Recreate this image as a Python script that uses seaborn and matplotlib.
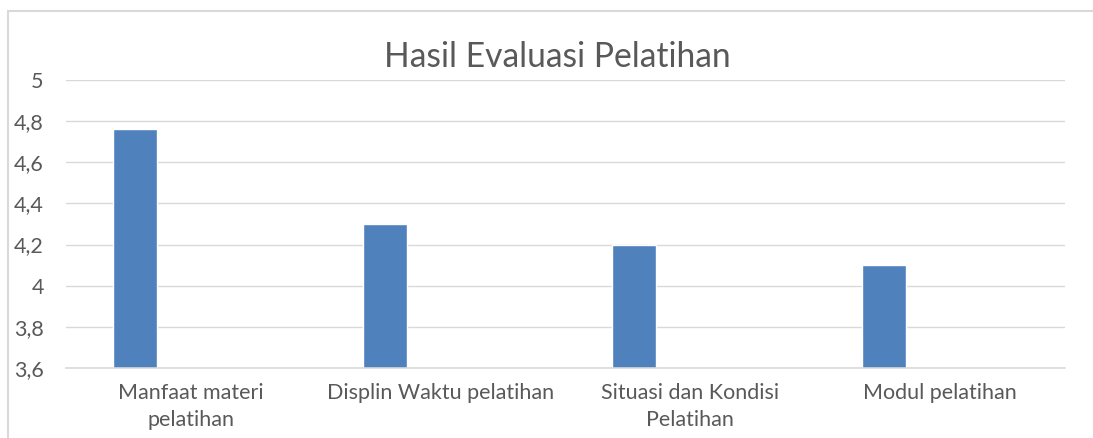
import numpy as np
import pandas as pd
import matplotlib
matplotlib.use("Agg")
import matplotlib.pyplot as plt
from matplotlib.patches import Rectangle
from matplotlib.ticker import FuncFormatter
import seaborn as sns

# ── Data ──────────────────────────────────────────────────────────────────────
CATEGORIES = ["Manfaat materi\npelatihan", "Displin Waktu pelatihan",
              "Situasi dan Kondisi\nPelatihan", "Modul pelatihan"]
SCORES = [4.76, 4.3, 4.2, 4.1]
SERIES = ["Nilai", "Kosong"]          # second series is empty (Excel layout)
Y_TICKS = [3.6, 3.8, 4.0, 4.2, 4.4, 4.6, 4.8, 5.0]
TITLE = "Hasil Evaluasi Pelatihan"

BAR_COLOR = "#4F81BD"
TEXT_COLOR = "#595959"
GRID_COLOR = "#D9D9D9"

# ── Plot ──────────────────────────────────────────────────────────────────────
sns.set_theme(style="white")
plt.rcParams["font.family"] = ["Lato", "DejaVu Sans"]

df = pd.DataFrame({
    "kategori": CATEGORIES * 2,
    "seri": [SERIES[0]] * len(CATEGORIES) + [SERIES[1]] * len(CATEGORIES),
    "nilai": SCORES + [np.nan] * len(CATEGORIES),
})

fig = plt.figure(figsize=(10.93, 4.38), dpi=100)
ax = fig.add_axes([66 / 1093, 1 - 368 / 438, (1065 - 66) / 1093, (368 - 80) / 438])

sns.barplot(data=df, x="kategori", y="nilai", hue="seri", hue_order=SERIES,
            order=CATEGORIES, palette=[BAR_COLOR, BAR_COLOR], width=0.896,
            gap=0.607, dodge=True, legend=False, ax=ax, saturation=1)

ax.set_ylim(3.6, 5.0)
ax.set_xlim(-0.5, len(CATEGORIES) - 0.5)
ax.set_yticks(Y_TICKS)
ax.yaxis.set_major_formatter(FuncFormatter(lambda v, _: f"{v:g}".replace(".", ",")))
ax.grid(axis="y", color=GRID_COLOR, linewidth=1)
ax.set_axisbelow(True)

for side in ["left", "right", "top"]:
    ax.spines[side].set_visible(False)
ax.spines["bottom"].set_color(GRID_COLOR)
ax.spines["bottom"].set_linewidth(1.2)

ax.tick_params(axis="y", length=0, pad=16, labelsize=15.5, labelcolor=TEXT_COLOR)
ax.tick_params(axis="x", length=0, pad=11, labelsize=15.5, labelcolor=TEXT_COLOR)
for lbl in ax.get_xticklabels():
    lbl.set_linespacing(1.4)
    lbl.set_verticalalignment("top")

ax.set_xlabel("")
ax.set_ylabel("")
fig.text(557 / 1093, 1 - 57 / 438, TITLE, ha="center", va="center",
         fontsize=24.2, color=TEXT_COLOR)

# chart frame (cropped at right / bottom)
fig.patches.append(Rectangle((8 / 1093, -0.2), 1.2, 1.2 - 11 / 438,
                             transform=fig.transFigure, fill=False,
                             edgecolor=GRID_COLOR, linewidth=1.5))

fig.savefig("out.png", dpi=100)
